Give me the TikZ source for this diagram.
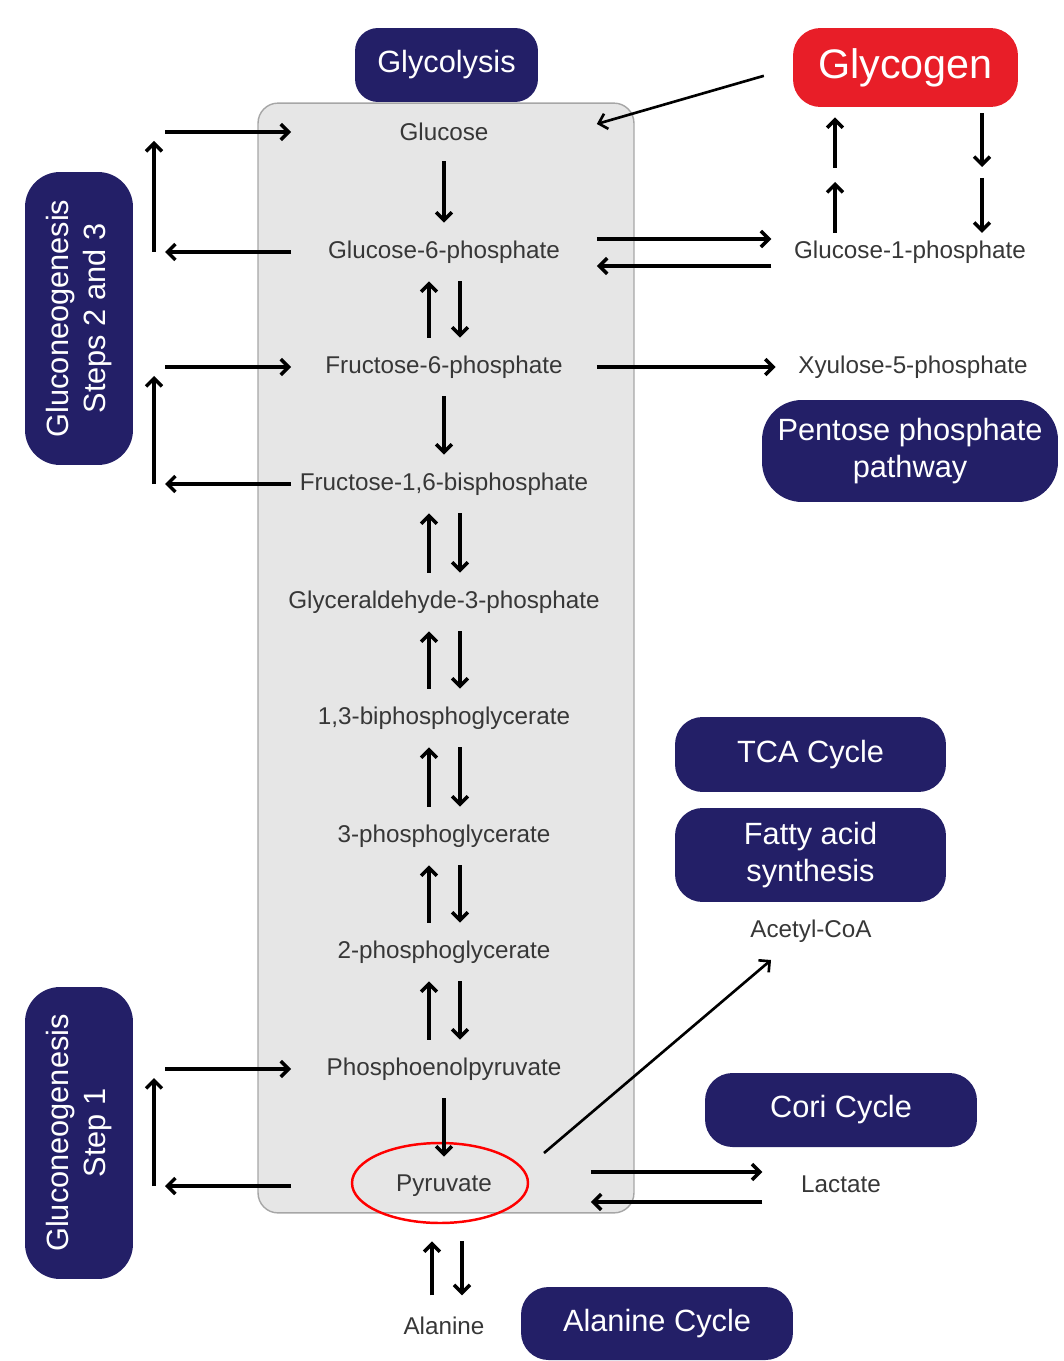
\documentclass[tikz,border=0pt]{standalone}
\usepackage{fontspec}
\setmainfont{Liberation Sans}
\usetikzlibrary{arrows.meta,shapes.geometric}
\definecolor{navy}{RGB}{35,31,103}
\definecolor{glyred}{RGB}{232,30,40}
\definecolor{boxgray}{RGB}{230,230,230}
\definecolor{metgray}{RGB}{55,55,55}

\begin{document}
\begin{tikzpicture}[
  x=0.02cm, y=-0.02cm,
  met/.style={minimum width=6.1cm, minimum height=1.16cm, inner sep=0pt, text=metgray, font=\fontsize{13.8}{16}\selectfont},
  side/.style={inner xsep=0.45cm, inner ysep=0.15cm, text=metgray, font=\fontsize{13.8}{16}\selectfont},
  pathbox/.style={rounded corners=0.55cm, fill=navy, text=white, align=center, inner sep=0pt, font=\fontsize{17.5}{21}\selectfont},
  arr/.style={line width=2pt, -{Straight Barb[length=4.5pt,width=9pt]}},
  thinarr/.style={line width=1.5pt, -{Straight Barb[length=4.5pt,width=9pt]}}
]
  \useasboundingbox (0,0) rectangle (1063,1361);

  % gray glycolysis column
  \node[fill=boxgray, draw=gray!70, line width=0.8pt, rounded corners=0.4cm, minimum width=7.52cm, minimum height=22.2cm] (glybox) at (446,658) {};

  % pathway boxes
  \node[pathbox, rounded corners=0.46cm, minimum width=3.66cm, minimum height=1.48cm] (glycolysis) at (446.5,65) {Glycolysis};
  \node[pathbox, fill=glyred, minimum width=4.5cm, minimum height=1.58cm, font=\fontsize{23.5}{26}\selectfont] (glycogen) at (905.5,67.5) {Glycogen};
  \node[pathbox, rotate=90, rounded corners=0.7cm, minimum width=5.86cm, minimum height=2.16cm] (gngA) at (79,318.5) {Gluconeogenesis\\Steps 2 and 3};
  \node[pathbox, rotate=90, rounded corners=0.7cm, minimum width=5.84cm, minimum height=2.16cm] (gngB) at (79,1133) {Gluconeogenesis\\Step 1};
  \node[pathbox, rounded corners=0.8cm, minimum width=5.92cm, minimum height=2.04cm] (ppp) at (910,451) {Pentose phosphate\\pathway};
  \node[pathbox, minimum width=5.42cm, minimum height=1.5cm] (tca) at (810.5,754.5) {TCA Cycle};
  \node[pathbox, minimum width=5.42cm, minimum height=1.88cm] (fas) at (810.5,855) {Fatty acid\\synthesis};
  \node[pathbox, minimum width=5.44cm, minimum height=1.48cm] (cori) at (841,1110) {Cori Cycle};
  \node[pathbox, minimum width=5.44cm, minimum height=1.46cm] (alacyc) at (657,1323.5) {Alanine Cycle};

  % metabolites
  \node[met] (glc) at (444,132) {Glucose};
  \node[met] (g6p) at (444,252) {Glucose-6-phosphate};
  \node[met] (f6p) at (444,367) {Fructose-6-phosphate};
  \node[met] (fbp) at (444,484) {Fructose-1,6-bisphosphate};
  \node[met] (gap) at (444,602) {Glyceraldehyde-3-phosphate};
  \node[met] (bpg) at (444,718) {1,3-biphosphoglycerate};
  \node[met] (pg3) at (444,836) {3-phosphoglycerate};
  \node[met] (pg2) at (444,952) {2-phosphoglycerate};
  \node[met] (pep) at (444,1069) {Phosphoenolpyruvate};
  \node[met] (pyr) at (444,1186) {Pyruvate};
  \node[side] (ala) at (444,1326) {Alanine};
  \node[side] (g1p) at (910,252) {Glucose-1-phosphate};
  \node[side] (x5p) at (913,367) {Xyulose-5-phosphate};
  \node[side] (acoa) at (811,931) {Acetyl-CoA};
  \node[side] (lac) at (841,1184) {Lactate};
  \node[ellipse, draw=red, line width=1.4pt, minimum width=3.52cm, minimum height=1.6cm] (pyrring) at (440,1183) {};

  % main chain
  \foreach \a/\b in {glc/g6p, f6p/fbp, pep/pyr}
    \draw[arr] (\a.south) -- (\b.north);
  \foreach \a/\b in {g6p/f6p, fbp/gap, gap/bpg, bpg/pg3, pg3/pg2, pg2/pep} {
    \draw[arr] ([xshift=-0.3cm]\b.north) -- ([xshift=-0.3cm]\a.south);
    \draw[arr] ([xshift=0.32cm]\a.south) -- ([xshift=0.32cm]\b.north);
  }
  \draw[arr, shorten <=0.28cm, shorten >=0.52cm] ([xshift=-0.24cm]ala.north) -- ([xshift=-0.24cm]pyr.south);
  \draw[arr, shorten <=0.52cm, shorten >=0.28cm] ([xshift=0.36cm]pyr.south) -- ([xshift=0.36cm]ala.north);

  % gluconeogenesis bypasses
  \coordinate (lrail) at (165,0);
  \coordinate (vrail) at (154,0);
  \foreach \top/\bot in {glc/g6p, f6p/fbp, pep/pyr} {
    \draw[arr] (lrail |- \top.west) -- (\top.west);
    \draw[arr] (\bot.west) -- (lrail |- \bot.west);
    \draw[arr, shorten >=0.18cm] (vrail |- \bot.west) -- (vrail |- \top.west);
  }

  % glycogen branch
  \draw[thinarr, shorten <=0.6cm] (glycogen.west) -- ([yshift=0.16cm]glc.east);
  \draw[arr] ([yshift=0.26cm]g6p.east) -- ([yshift=0.26cm]g1p.west);
  \draw[arr] ([yshift=-0.28cm]g1p.west) -- ([yshift=-0.28cm]g6p.east);
  \coordinate (gup) at (835,175);
  \coordinate (gdn) at (982,173);
  \draw[arr] (g1p.north -| gup) -- ([yshift=-0.14cm]gup);
  \draw[arr, shorten >=0.2cm] ([yshift=0.14cm]gup) -- (glycogen.south -| gup);
  \draw[arr, shorten <=0.12cm] (glycogen.south -| gdn) -- ([yshift=0.12cm]gdn);
  \draw[arr] ([yshift=-0.1cm]gdn) -- (g1p.north -| gdn);

  % side exits
  \draw[arr] (f6p.east) -- (x5p.west);
  \draw[thinarr] ([shift={(100,-33)}]pyr.center) -- ([shift={(-40,29)}]acoa.center);
  \draw[arr] ([shift={(-6,-14)}]pyr.east) -- ([shift={(-16,-12)}]lac.west);
  \draw[arr] ([shift={(-16,18)}]lac.west) -- ([shift={(-6,16)}]pyr.east);
\end{tikzpicture}
\end{document}
